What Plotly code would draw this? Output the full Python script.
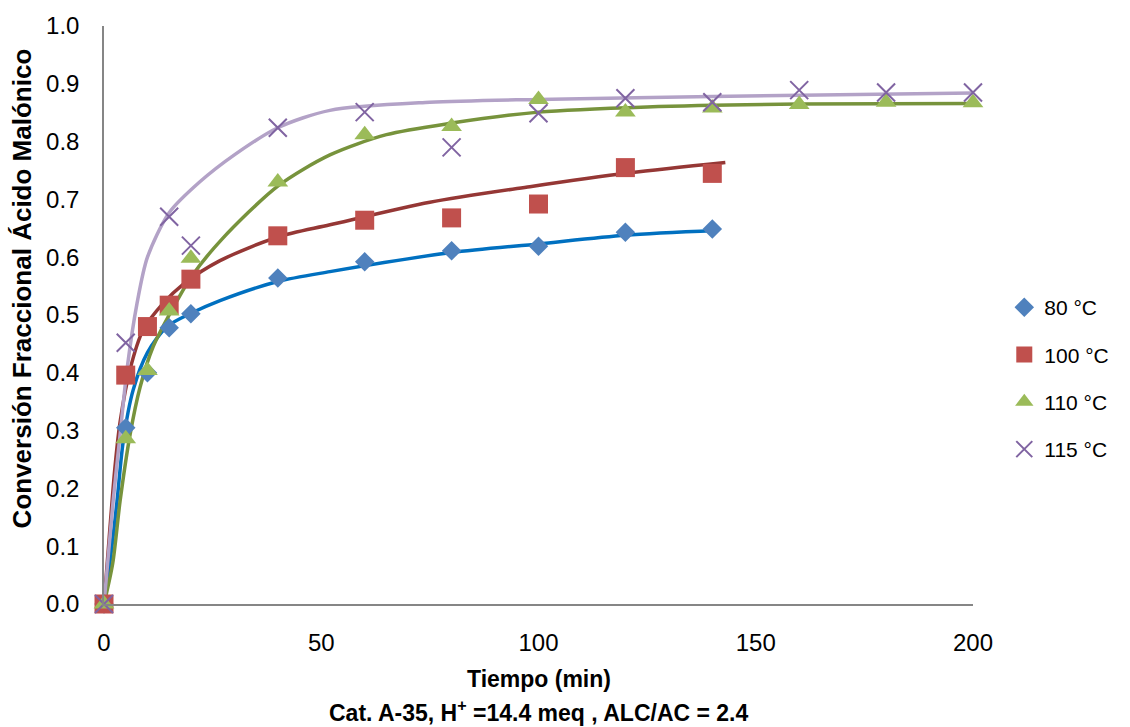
import plotly.graph_objects as go

t_short = [0, 5, 10, 15, 20, 40, 60, 80, 100, 120, 140]
y_80 = [0, 0.305, 0.400, 0.478, 0.502, 0.564, 0.592, 0.611, 0.619, 0.643, 0.649]
y_100 = [0, 0.396, 0.480, 0.517, 0.562, 0.637, 0.664, 0.668, 0.692, 0.755, 0.745]

t_110 = [0, 5, 10, 15, 20, 40, 60, 80, 100, 120, 140, 160, 180, 200]
y_110 = [0, 0.286, 0.404, 0.507, 0.598, 0.730, 0.812, 0.826, 0.873, 0.851, 0.858, 0.864, 0.868, 0.867]

t_115 = [0, 5, 15, 20, 40, 60, 80, 100, 120, 140, 160, 180, 200]
y_115 = [0, 0.452, 0.670, 0.620, 0.824, 0.851, 0.790, 0.849, 0.875, 0.868, 0.889, 0.885, 0.885]

# ---- trend curves ----
ct_80 = [0, 1.5, 3, 4.4, 6.7, 10, 14.5, 20, 26.7, 40, 52, 80, 100, 120, 141]
cy_80 = [0, 0.08, 0.178, 0.28, 0.37, 0.435, 0.480, 0.503, 0.525, 0.558, 0.575, 0.608, 0.623, 0.638, 0.646]

ct_100 = [0, 1.2, 2.5, 3.7, 6, 9, 13.6, 18.2, 26.7, 40, 52, 75, 98, 121, 143]
cy_100 = [0, 0.115, 0.235, 0.315, 0.406, 0.474, 0.520, 0.553, 0.594, 0.635, 0.656, 0.695, 0.722, 0.746, 0.764]

ct_110 = [0, 2, 3.7, 6, 8.3, 11.3, 15, 20, 27, 40, 52, 65, 80, 100, 125, 160, 201]
cy_110 = [0, 0.07, 0.178, 0.293, 0.375, 0.445, 0.500, 0.565, 0.630, 0.723, 0.777, 0.812, 0.832, 0.851, 0.860, 0.865, 0.866]

ct_115 = [0, 2.1, 3.7, 5.3, 7.6, 10, 15, 22, 30, 40, 52, 75, 100, 140, 201]
cy_115 = [0, 0.178, 0.293, 0.406, 0.520, 0.600, 0.677, 0.730, 0.777, 0.824, 0.854, 0.868, 0.873, 0.878, 0.884]

names = ["80 °C", "100 °C", "110 °C", "115 °C"]
x_ticks = [0, 50, 100, 150, 200]
y_ticks = [0.0, 0.1, 0.2, 0.3, 0.4, 0.5, 0.6, 0.7, 0.8, 0.9, 1.0]

FONT = "Liberation Sans"

fig = go.Figure()

curve_colors = ["#0070C0", "#953735", "#77933C", "#B3A2C7"]
curves = [(ct_80, cy_80), (ct_100, cy_100), (ct_110, cy_110), (ct_115, cy_115)]
for (ct, cy), col in zip(curves, curve_colors):
    fig.add_trace(go.Scatter(x=ct, y=cy, mode="lines",
                             line=dict(color=col, width=3.5, shape="spline", smoothing=0.8),
                             showlegend=False, hoverinfo="skip", cliponaxis=False))

markers = [
    (t_short, y_80, dict(symbol="diamond", size=15, color="#4F81BD")),
    (t_short, y_100, dict(symbol="square", size=19, color="#C0504D")),
    (t_110, y_110, dict(symbol="triangle-up", size=18, color="#9BBB59")),
    (t_115, y_115, dict(symbol="x-thin", size=18, color="#8064A2",
                        line=dict(color="#8064A2", width=2))),
]
for i, ((xs, ys, mk), nm) in enumerate(zip(markers, names)):
    fig.add_trace(go.Scatter(x=xs, y=ys, mode="markers", name=nm, marker=mk,
                             legendgroup=f"g{i}", cliponaxis=False))

fig.update_layout(
    width=1130, height=727,
    margin=dict(l=104, r=157, t=20, b=123),
    paper_bgcolor="white", plot_bgcolor="white",
    font=dict(family=FONT, size=24, color="black"),
    showlegend=True,
    legend=dict(x=1.036, xanchor="left", y=0.39, yanchor="middle",
                font=dict(size=21, family=FONT), tracegroupgap=17,
                borderwidth=0, bgcolor="rgba(0,0,0,0)"),
    xaxis=dict(range=[0, 200], tickvals=x_ticks, ticktext=[str(v) for v in x_ticks],
               showgrid=False, zeroline=False, showline=True, linecolor="#868686",
               linewidth=1.5, ticks="", ticklen=0, tickfont=dict(size=24),
               ticklabelstandoff=16, fixedrange=True),
    yaxis=dict(range=[0, 1.0], tickvals=y_ticks, ticktext=[f"{v:.1f}" for v in y_ticks],
               showgrid=False, zeroline=False, showline=True, linecolor="#868686",
               linewidth=1.5, ticks="", ticklen=0, tickfont=dict(size=24),
               ticklabelstandoff=18, fixedrange=True),
)

fig.add_annotation(text="<b>Conversión Fraccional Ácido Malónico</b>",
                   xref="paper", yref="paper", x=-0.0944, y=0.546,
                   xanchor="center", yanchor="middle", textangle=-90,
                   showarrow=False, font=dict(size=26, family=FONT))
fig.add_annotation(text="<b>Tiempo (min)</b>", xref="paper", yref="paper",
                   x=0.5, y=-0.130, xanchor="center", yanchor="middle",
                   showarrow=False, font=dict(size=23, family=FONT))
fig.add_annotation(text="<b>Cat. A-35, H<sup>+</sup> =14.4 meq , ALC/AC = 2.4</b>",
                   xref="paper", yref="paper",
                   x=0.5, y=-0.185, xanchor="center", yanchor="middle",
                   showarrow=False, font=dict(size=23, family=FONT))

fig.write_html("out.html")
